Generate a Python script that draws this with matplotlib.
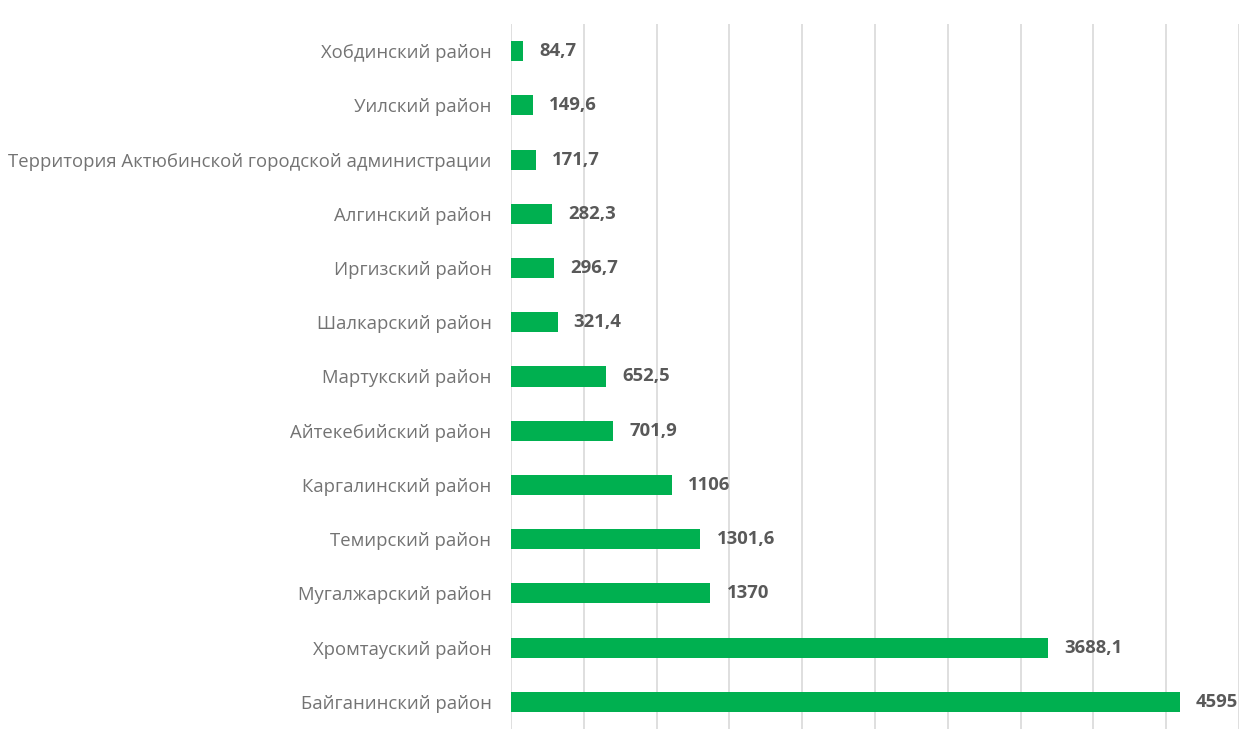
import numpy as np
import matplotlib.pyplot as plt

# районы (сверху вниз) и значения
districts = ['Хобдинский район', 'Уилский район',
             'Территория Актюбинской городской администрации',
             'Алгинский район', 'Иргизский район', 'Шалкарский район',
             'Мартукский район', 'Айтекебийский район', 'Каргалинский район',
             'Темирский район', 'Мугалжарский район', 'Хромтауский район',
             'Байганинский район']
values = [84.7, 149.6, 171.7, 282.3, 296.7, 321.4, 652.5, 701.9,
          1106, 1301.6, 1370, 3688.1, 4595]
value_labels = ['84,7', '149,6', '171,7', '282,3', '296,7', '321,4', '652,5',
                '701,9', '1106', '1301,6', '1370', '3688,1', '4595']

plt.rcParams['font.family'] = ['Open Sans', 'DejaVu Sans']

fig = plt.figure(figsize=(12.56, 7.37), dpi=100)
ax = fig.add_axes([0.4068, 0.0109, 0.5797, 0.9565])

y = np.arange(len(districts))
ax.barh(y, values, height=0.37, color='#00B050', zorder=3)

for yi, v, lab in zip(y, values, value_labels):
    ax.annotate(lab, (v, yi), xytext=(16, 0), textcoords='offset pixels',
                va='center', ha='left', fontsize=13.3, fontweight='bold',
                color='#595959')

ax.set_yticks(y)
ax.set_yticklabels(districts, fontsize=13.3, color='#737373')
ax.tick_params(axis='y', length=0, pad=14)
ax.set_ylim(len(districts) - 0.5, -0.5)

ax.set_xlim(0, 5000)
ax.set_xticks(np.arange(0, 5001, 500))
ax.tick_params(axis='x', length=0, labelbottom=False)
ax.grid(axis='x', color='#D9D9D9', linewidth=1.2, zorder=0)

for s in ax.spines.values():
    s.set_visible(False)

fig.savefig('out.png', dpi=100)
